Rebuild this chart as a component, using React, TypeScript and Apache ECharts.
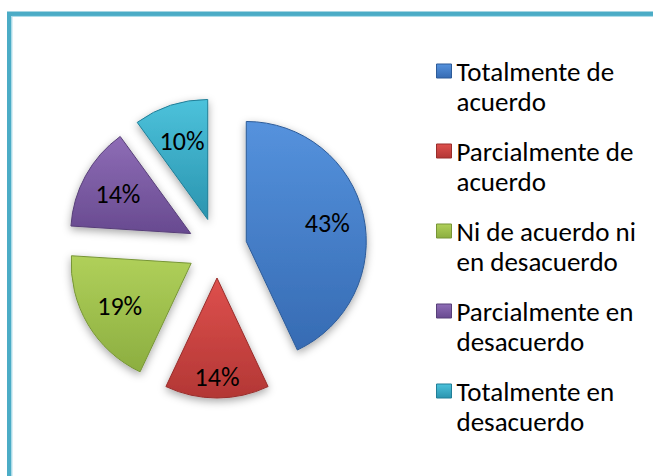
import React, { useEffect, useRef } from "react";
import * as echarts from "echarts";

const categories = [
  "Totalmente de acuerdo",
  "Parcialmente de acuerdo",
  "Ni de acuerdo ni en desacuerdo",
  "Parcialmente en desacuerdo",
  "Totalmente en desacuerdo",
];
const legendLines = [
  ["Totalmente de", "acuerdo"],
  ["Parcialmente de", "acuerdo"],
  ["Ni de acuerdo ni", "en desacuerdo"],
  ["Parcialmente en", "desacuerdo"],
  ["Totalmente en", "desacuerdo"],
];
const values = [43, 14, 19, 14, 10];
const lightColors = ["#5592DD", "#DE504D", "#B0D05A", "#8E6DB6", "#4CC2DB"];
const darkColors = ["#366BB3", "#B33735", "#8CAE40", "#684A90", "#2A94AF"];
const edgeColors = ["#2D5B98", "#982D2B", "#779536", "#573F78", "#217E97"];

const FONT = "Carlito, Lato, 'Noto Sans', sans-serif";

export default function App() {
  const ref = useRef<HTMLDivElement>(null);
  useEffect(() => {
    if (!ref.current) return;
    const chart = echarts.init(ref.current, undefined, { renderer: "svg" });
    const grad = (i: number) =>
      new echarts.graphic.LinearGradient(0, 0, 0, 1, [
        { offset: 0, color: lightColors[i] },
        { offset: 1, color: darkColors[i] },
      ]);
    const baseData = categories.map((name, i) => ({
      name,
      value: values[i],
      selected: true,
      itemStyle: {
        color: grad(i),
        borderColor: edgeColors[i],
        borderWidth: 1,
        shadowBlur: 8,
        shadowOffsetY: 3,
        shadowColor: "rgba(0,0,0,0.35)",
      },
    }));
    // label ring: red label sits further out than the others
    const outerLabel = [false, true, false, false, false];
    const labelData = (outer: boolean) =>
      categories.map((name, i) => ({
        name,
        value: values[i],
        selected: true,
        label: { show: outerLabel[i] === outer },
      }));
    const center = [217, 248];
    const labelSeries = (radius: number[], outer: boolean) => ({
      type: "pie",
      center,
      radius,
      startAngle: 90,
      clockwise: true,
      silent: true,
      legendHoverLink: false,
      selectedMode: "multiple",
      selectedOffset: 30,
      itemStyle: { color: "rgba(0,0,0,0)" },
      emphasis: { disabled: true },
      label: {
        show: true,
        position: "inside",
        formatter: (p: any) => p.value + "%",
        fontFamily: FONT,
        fontSize: 26,
        color: "#000000",
      },
      labelLine: { show: false },
      data: labelData(outer),
    });
    chart.setOption({
      animation: false,
      backgroundColor: "#ffffff",
      legend: {
        orient: "vertical",
        left: 436,
        top: 26,
        padding: 0,
        itemWidth: 15,
        itemHeight: 14,
        itemGap: -10,
        icon: "rect",
        selectedMode: false,
        data: categories.map((name, i) => ({
          name,
          itemStyle: { color: grad(i), borderColor: edgeColors[i], borderWidth: 1 },
        })),
        formatter: (name: string) => {
          const i = categories.indexOf(name);
          return " \n" + legendLines[i].join("\n");
        },
        textStyle: {
          fontFamily: FONT,
          fontSize: 27,
          lineHeight: 30,
          color: "#000000",
        },
      },
      graphic: [
        {
          type: "rect",
          silent: true,
          shape: { x: 9.2, y: 13.8, width: 700, height: 500 },
          style: { fill: "none", stroke: "#4BACC6", lineWidth: 4.4 },
        },
        {
          type: "rect",
          silent: true,
          shape: { x: 11.9, y: 16.4, width: 700, height: 500 },
          style: { fill: "none", stroke: "#A4D9E7", lineWidth: 1 },
        },
      ],
      series: [
        {
          type: "pie",
          center,
          radius: 120,
          startAngle: 90,
          clockwise: true,
          selectedMode: "multiple",
          selectedOffset: 30,
          label: { show: false },
          labelLine: { show: false },
          emphasis: { disabled: true },
          data: baseData,
        },
        labelSeries([40, 120], false),
        labelSeries([72, 120], true),
      ],
    });
    return () => chart.dispose();
  }, []);
  return (
    <div
      ref={ref}
      style={{ position: "fixed", left: 0, top: 0, width: 653, height: 476 }}
    />
  );
}
